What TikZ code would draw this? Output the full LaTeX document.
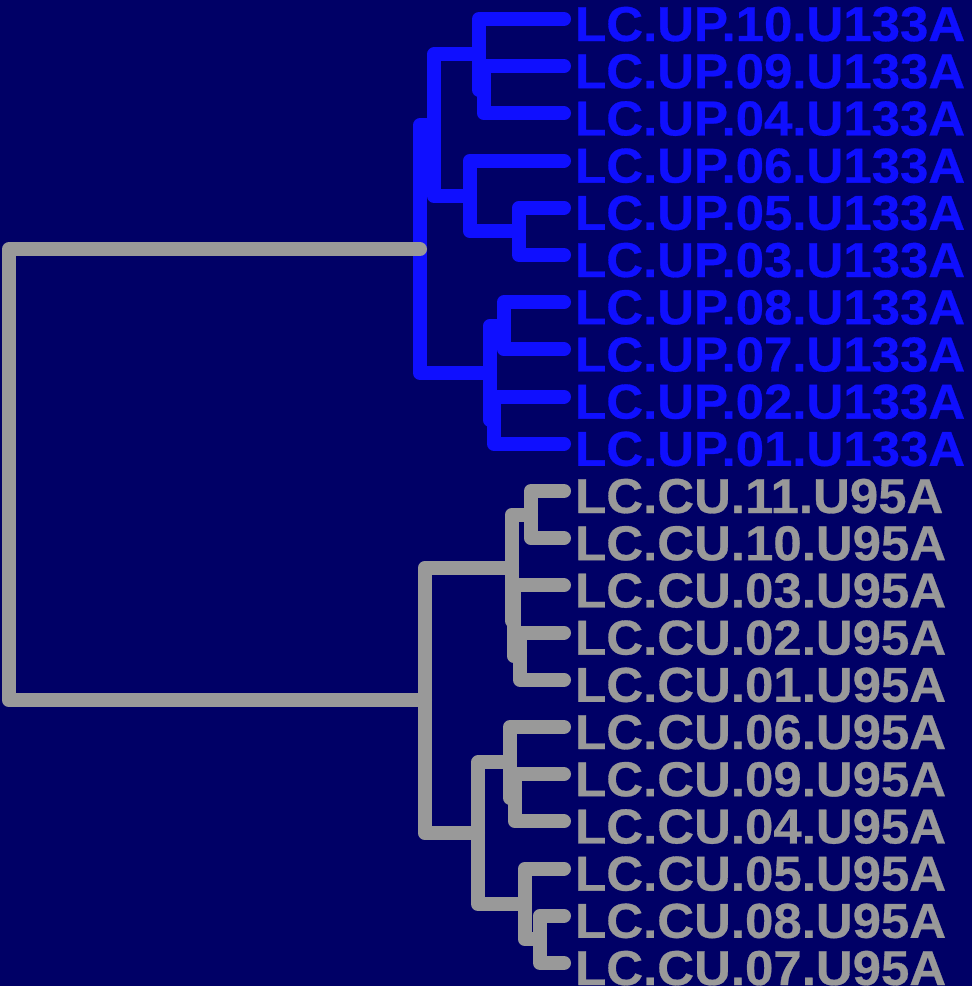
\documentclass[tikz,border=0pt]{standalone}
\usepackage{fontspec}
\setmainfont{Liberation Sans}
\newfontfamily\leaffont{Liberation Sans}[FakeStretch=1.04, FakeBold=0.6]
\usepackage{xcolor}
\definecolor{mynavy}{HTML}{000066}
\definecolor{myblue}{HTML}{0F0FFF}
\definecolor{mygray}{HTML}{999999}
\usepackage{tikz}
\usetikzlibrary{positioning,calc}
\tikzstyle{upbranch} = [draw=myblue, line width=14pt, line cap=round, line join=round]
\tikzstyle{cubranch} = [draw=mygray, line width=14pt, line cap=round, line join=round]
\tikzstyle{leaflabel} = [anchor=base west, inner sep=0pt, font=\fontsize{49}{49}\leaffont\bfseries]

\begin{document}
\begin{tikzpicture}[x=1pt, y=-1pt]
    \fill[mynavy] (0,0) rectangle (972,986);
    \useasboundingbox (0,0) rectangle (972,986);

    % Leaves
    \foreach \lab [count=\i from 0] in {LC.UP.10.U133A, LC.UP.09.U133A, LC.UP.04.U133A, LC.UP.06.U133A, LC.UP.05.U133A, LC.UP.03.U133A, LC.UP.08.U133A, LC.UP.07.U133A, LC.UP.02.U133A, LC.UP.01.U133A} {
        \coordinate (l\i) at (564, {19+47.2*\i});
        \node [leaflabel, text=myblue] (t\i) at (575, {41+47.2*\i}) {\lab};
    }
    \foreach \lab [count=\i from 10] in {LC.CU.11.U95A, LC.CU.10.U95A, LC.CU.03.U95A, LC.CU.02.U95A, LC.CU.01.U95A, LC.CU.06.U95A, LC.CU.09.U95A, LC.CU.04.U95A, LC.CU.05.U95A, LC.CU.08.U95A, LC.CU.07.U95A} {
        \coordinate (l\i) at (564, {19+47.2*\i});
        \node [leaflabel, text=mygray] (t\i) at (575, {41+47.2*\i}) {\lab};
    }

    % Merge points
    \coordinate (u0904) at (484, 89.8);
    \coordinate (u10) at (479, 54.4);
    \coordinate (u0503) at (519, 231.4);
    \coordinate (u06) at (470, 196);
    \coordinate (uA) at (434, 125.2);
    \coordinate (u0807) at (504, 325.8);
    \coordinate (u0201) at (494, 420.2);
    \coordinate (uC) at (490, 373);
    \coordinate (uroot) at (420, 249.1);

    \coordinate (c1110) at (531, 514.6);
    \coordinate (c0201) at (520, 656.2);
    \coordinate (c03) at (514, 620.8);
    \coordinate (c1) at (512, 567.7);
    \coordinate (c0904) at (515, 797.8);
    \coordinate (c06) at (510, 762.4);
    \coordinate (c0807) at (540, 939.4);
    \coordinate (c05) at (525, 904);
    \coordinate (c2) at (478, 833.2);
    \coordinate (croot) at (425, 700.4);
    \coordinate (root) at (9, 474.8);

    % Branches
    \foreach \p/\c in {u0904/l1, u0904/l2, u10/l0, u10/u0904, u0503/l4, u0503/l5, u06/l3, u06/u0503, uA/u10, uA/u06, u0807/l6, u0807/l7, u0201/l8, u0201/l9, uC/u0807, uC/u0201, uroot/uA, uroot/uC}
        \draw [upbranch] (\p) |- (\c);
    \foreach \p/\c in {c1110/l10, c1110/l11, c0201/l13, c0201/l14, c03/l12, c03/c0201, c1/c1110, c1/c03, c0904/l16, c0904/l17, c06/l15, c06/c0904, c0807/l19, c0807/l20, c05/l18, c05/c0807, c2/c06, c2/c05, croot/c1, croot/c2, root/uroot, root/croot}
        \draw [cubranch] (\p) |- (\c);

\end{tikzpicture}
\end{document}
